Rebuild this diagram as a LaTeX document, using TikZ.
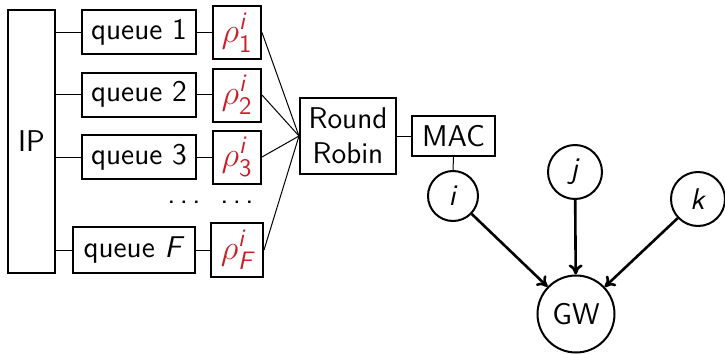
\documentclass[tikz,border=0pt]{standalone}
\usepackage{amsmath}
\usepackage{fontspec}
\renewcommand\familydefault{\sfdefault}
\usetikzlibrary{arrows.meta}
\definecolor{rhored}{RGB}{200,30,40}
\newcommand\rhobox[1]{$\rho^{\text{\itshape i}}_{#1}$}
\newcommand\mydots{.\kern2.2pt.\kern2.2pt.}
\begin{document}
\begin{tikzpicture}[x=0.5pt,y=-0.5pt,
  every node/.style={font=\fontsize{15}{17.5}\selectfont},
  box/.style={draw,line width=1pt,inner sep=0pt,anchor=center},
  qbox/.style={box,minimum width=57pt,minimum height=22pt},
  rbox/.style={box,minimum width=24pt,minimum height=26.5pt,text=rhored,font=\fontsize{18}{20}\selectfont},
  circ/.style={draw,circle,line width=1pt,inner sep=0pt,minimum size=25pt},
  conn/.style={line width=0.5pt},
  dotsnode/.style={inner sep=0pt},
  arr/.style={line width=1.3pt,-{To[length=5pt,width=7pt]}}]
\useasboundingbox (0,0) rectangle (725,354);
\node[box,minimum width=23.5pt,minimum height=131.5pt] (ip) at (31.5,141.5) {IP};
\node[qbox] (q1) at (139,32) {queue 1};
\node[qbox] (q2) at (139,94.5) {queue 2};
\node[qbox] (q3) at (139,157) {queue 3};
\node[qbox,minimum width=61pt,minimum height=23pt] (qF) at (134,250) {queue \textit{F}};
\node[rbox] (r1) at (237,32.5) {\rhobox{\text{1}}};
\node[rbox] (r2) at (237,95) {\rhobox{\text{2}}};
\node[rbox] (r3) at (237,157) {\rhobox{\text{3}}};
\node[rbox,minimum width=26pt,minimum height=27pt] (rF) at (237,250) {\rhobox{\text{\itshape F}}};
\node[dotsnode] (d1) at (184,202) {\mydots};
\node[dotsnode] (d2) at (237,202) {\mydots};
\node[box,minimum width=48pt,minimum height=38pt,align=center] (rr) at (348,136) {Round\\Robin};
\node[box,minimum width=41.5pt,minimum height=20pt] (mac) at (453.5,136) {MAC};
\node[circ] (ni) at (453,196) {\textit{i}};
\node[circ,minimum size=27pt] (nj) at (575,172) {\textit{j}};
\node[circ,minimum size=27pt] (nk) at (698,199) {\textit{k}};
\node[circ,minimum size=38.5pt] (gw) at (576,314) {GW};
\foreach \q in {q1,q2,q3,qF} \draw[conn] (ip.east |- \q.west) -- (\q.west);
\draw[conn] (q1.east) -- (r1.west |- q1.east);
\draw[conn] (q2.east) -- (r2.west |- q2.east);
\draw[conn] (q3.east) -- (r3.west |- q3.east);
\draw[conn] (qF.east) -- (rF.west |- qF.east);
\foreach \r in {r1,r2,r3,rF} \draw[conn] (\r.east) -- (rr.west);
\draw[conn] (rr.east) -- (mac.west);
\draw[conn] (mac.south) -- (ni.north);
\draw[arr] (ni) -- (gw);
\draw[arr] (nj) -- (gw);
\draw[arr] (nk) -- (gw);
\end{tikzpicture}
\end{document}
